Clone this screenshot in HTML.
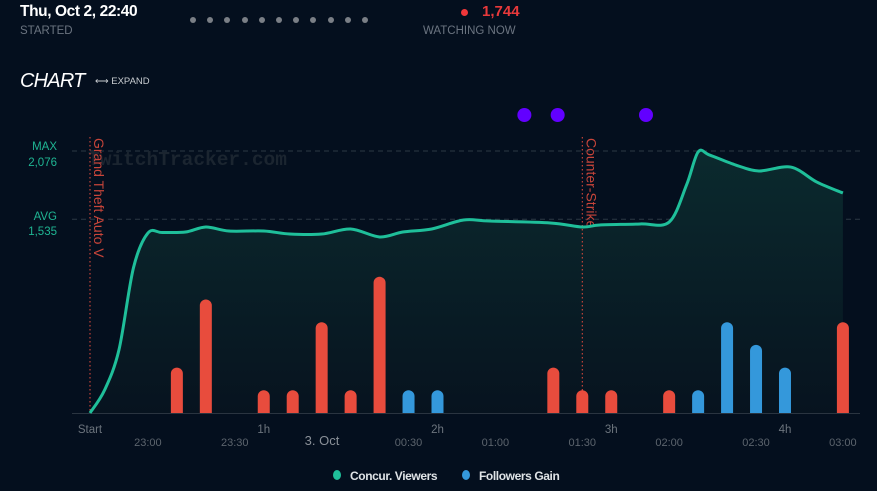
<!DOCTYPE html>
<html><head><meta charset="utf-8">
<style>
html,body{margin:0;padding:0;background:#040f1e;width:877px;height:491px;overflow:hidden;font-family:"Liberation Sans",sans-serif;}
.t{position:absolute;white-space:nowrap;}
.d{position:absolute;top:17px;width:6px;height:6px;border-radius:50%;background:#7a7f86;}
</style></head>
<body>
<div class="t" style="left:20px;top:3px;color:#fff;font-weight:bold;font-size:15.5px;letter-spacing:-0.4px">Thu, Oct 2, 22:40</div>
<div class="t" style="left:20px;top:25px;color:#6b7480;font-size:11.5px">STARTED</div>
<div class="t" style="left:0;top:0">
<div class="d" style="left:190px"></div><div class="d" style="left:207px"></div><div class="d" style="left:224px"></div><div class="d" style="left:242px"></div><div class="d" style="left:259px"></div><div class="d" style="left:276px"></div><div class="d" style="left:293px"></div><div class="d" style="left:310px"></div><div class="d" style="left:328px"></div><div class="d" style="left:345px"></div><div class="d" style="left:362px"></div>
</div>
<div class="t" style="left:461px;top:9px;width:7px;height:7px;border-radius:50%;background:#f0373a"></div>
<div class="t" style="left:482px;top:3px;color:#e8393b;font-weight:bold;font-size:15px">1,744</div>
<div class="t" style="left:423px;top:25px;color:#6b7480;font-size:11.5px">WATCHING NOW</div>
<div class="t" style="left:20px;top:70px;color:#fff;font-style:italic;font-size:20px;letter-spacing:-0.8px">CHART</div>
<div class="t" style="left:95px;top:76px;color:#c8ccd0;font-size:9.5px">⟷ EXPAND</div>

<svg id="chart" width="877" height="491" style="position:absolute;left:0;top:0">
<defs><linearGradient id="fg" x1="0" y1="0" x2="0" y2="1"><stop offset="0" stop-color="#0b2a2e"/><stop offset="1" stop-color="#07131f"/></linearGradient></defs>
</svg>
<script>
const viewerMinutes=[0,5,10,15,20,25,33,40,48,60,69,80,90,100,108,118,129,138,159,170,176,190,200,206,210,214,223,231,242,251,260];
const viewerValues=[0,180,500,1150,1426,1430,1434,1474,1442,1442,1418,1418,1458,1395,1434,1458,1529,1521,1506,1474,1490,1498,1513,1807,2068,2044,1965,1918,1949,1830,1743];
const followerMinutes=[30,40,60,70,80,90,100,110,120,160,170,180,200,210,220,230,240,260];
const followerValues=[2,5,1,1,4,1,6,1,1,2,1,1,1,1,4,3,2,4];
const followerType=["r","r","r","r","r","r","r","b","b","r","r","r","r","b","b","b","b","r"];
const hourLabels=["Start","1h","2h","3h","4h"];
const hourMinutes=[0,60,120,180,240];
const clockLabels=["23:00","23:30","00:30","01:00","01:30","02:00","02:30","03:00"];
const clockMinutes=[20,50,110,140,170,200,230,260];
const gameNames=["Grand Theft Auto V","Counter-Strike"];
const gameMinutes=[0,170];
const eventMinutes=[150,161.5,192];
const maxV=2076, avgV=1535;

const NS="http://www.w3.org/2000/svg";
const svg=document.getElementById('chart');
const X=m=>90+m*2.8958;
const Y=v=>413-v*0.1262;
const BY=v=>413-v*22.7;
function mk(tag,attrs,parent){const e=document.createElementNS(NS,tag);for(const k in attrs)e.setAttribute(k,attrs[k]);(parent||svg).appendChild(e);return e;}

[[maxV,'max'],[avgV,'avg']].forEach(([v,n])=>{
  const l=mk('line',{x1:72,x2:860,y1:Y(v),y2:Y(v),stroke:'#2c3844','stroke-dasharray':'5,4'});
  
  
});
const wm=mk('text',{x:88,y:165,fill:'#1b2530','font-family':'Liberation Mono, monospace','font-size':'19.5','font-weight':'bold'});
wm.textContent='TwitchTracker.com';


[["MAX",146],[maxV.toLocaleString('en-US'),162],["AVG",216],[avgV.toLocaleString('en-US'),231]].forEach(([t,y],i)=>{
  const e=mk('text',{x:57,y:y+4,fill:'#1fb593','font-size':'11.5','text-anchor':'end'});e.textContent=t;
  
  
});
const pts=viewerMinutes.map((m,i)=>[X(m),Y(viewerValues[i])]);
let d='M'+pts[0][0]+','+pts[0][1];
for(let i=0;i<pts.length-1;i++){
  const p0=pts[Math.max(0,i-1)],p1=pts[i],p2=pts[i+1],p3=pts[Math.min(pts.length-1,i+2)];
  const t=0.16;
  d+=` C${p1[0]+(p2[0]-p0[0])*t},${p1[1]+(p2[1]-p0[1])*t} ${p2[0]-(p3[0]-p1[0])*t},${p2[1]-(p3[1]-p1[1])*t} ${p2[0]},${p2[1]}`;
}
const area=mk('path',{d:d+` L${pts[pts.length-1][0]},413 L${pts[0][0]},413 Z`,fill:'url(#fg)'});


const bl=mk('line',{x1:72,x2:860,y1:413.5,y2:413.5,stroke:'#2a3440'});


followerMinutes.forEach((m,i)=>{
  const x=X(m)-6,top=BY(followerValues[i]);
  const b=mk('path',{d:`M${x},413 L${x},${top+6} A6,6 0 0 1 ${x+12},${top+6} L${x+12},413 Z`,fill:followerType[i]==='r'?'#e84c3d':'#3498db'});
  
  
});
gameMinutes.forEach((m,i)=>{
  const x=X(m);
  const l=mk('line',{x1:x,x2:x,y1:137,y2:413,stroke:'#e84c3d','stroke-dasharray':'1.5,2.5'});
  
  
  const t=mk('text',{x:0,y:0,fill:'#c8453a','font-size':'14',transform:`translate(${x+4},138) rotate(90)`});
  t.textContent=gameNames[i];
  
  
});
const ln=mk('path',{d:d,fill:'none',stroke:'#1fbf9a','stroke-width':'3','stroke-linejoin':'round'});


eventMinutes.forEach(m=>{
  const c=mk('circle',{cx:X(m),cy:115,r:7,fill:'#6200ff'});
  
  
});
hourLabels.forEach((t,i)=>{
  const e=mk('text',{x:X(hourMinutes[i]),y:433,fill:'#6c747d','font-size':'11.5','text-anchor':'middle'});e.textContent=t;
  
  
});
clockLabels.forEach((t,i)=>{
  const e=mk('text',{x:X(clockMinutes[i]),y:446,fill:'#5c646d','font-size':'11','text-anchor':'middle'});e.textContent=t;
  
  
});
const dl=mk('text',{x:322,y:445,fill:'#8a9098','font-size':'13','text-anchor':'middle'});dl.textContent='3. Oct';


[[337,'#1fbf9a','Concur. Viewers','legend-viewers'],[466,'#3498db','Followers Gain','legend-followers']].forEach(([x,c,t,n])=>{
  const g=mk('g',{});
  
  
  mk('ellipse',{cx:x,cy:475,rx:4,ry:5,fill:c},g);
  const e=mk('text',{x:x+13,y:480,fill:'#dfe3e6','font-size':'12','font-weight':'bold','letter-spacing':'-0.4'},g);e.textContent=t;
});
</script>
</body></html>
